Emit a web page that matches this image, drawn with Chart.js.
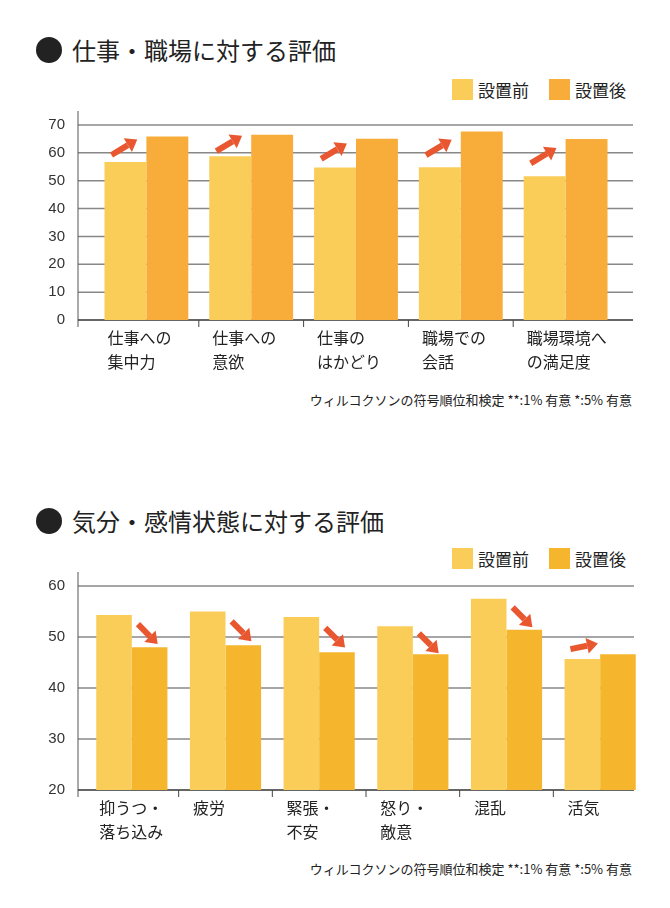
<!DOCTYPE html>
<html><head><meta charset="utf-8">
<script src="https://cdn.jsdelivr.net/npm/chart.js@4/dist/chart.umd.min.js"></script>
<style>
body{margin:0;width:670px;height:908px;background:#fff;font-family:"Noto Sans CJK JP","Noto Sans",sans-serif;color:#222;position:relative;overflow:hidden}
.t{position:absolute;left:36px;font-size:24px;display:flex;align-items:center;gap:10px}
.t span.b{width:26px;height:26px;border-radius:50%;background:#222;display:inline-block}
.lg{position:absolute;font-size:17px;display:flex;align-items:center}
.lg i{display:inline-block;width:21px;height:21px;margin:0 5px 0 0}
.note{position:absolute;right:38px;font-size:13px}
.cv{position:absolute;left:30px;width:620px;height:290px}
</style></head><body>
<div class="t" style="top:32px"><span class="b"></span>仕事・職場に対する評価</div>
<div class="lg" style="left:452px;top:77px"><i style="background:#f9cd58"></i>設置前<i style="background:#f8ad3a;margin-left:20px"></i>設置後</div>
<div class="note" style="top:390px">ウィルコクソンの符号順位和検定 **:1% 有意 *:5% 有意</div>
<div class="t" style="top:503px"><span class="b"></span>気分・感情状態に対する評価</div>
<div class="lg" style="left:452px;top:546px"><i style="background:#f9cd58"></i>設置前<i style="background:#f5b52d;margin-left:20px"></i>設置後</div>
<div class="note" style="top:859px">ウィルコクソンの符号順位和検定 **:1% 有意 *:5% 有意</div>
<div class="cv" style="top:95px"><canvas id="c1"></canvas></div>
<div class="cv" style="top:565px"><canvas id="c2"></canvas></div>
<script>
const cats1=[["仕事への","集中力"],["仕事への","意欲"],["仕事の","はかどり"],["職場での","会話"],["職場環境へ","の満足度"]];
const before1=[56.7,58.8,54.7,54.8,51.6];
const after1=[65.9,66.5,65.1,67.7,65.0];
const cats2=[["抑うつ・","落ち込み"],["疲労"],["緊張・","不安"],["怒り・","敵意"],["混乱"],["活気"]];
const before2=[54.3,55.0,53.9,52.1,57.5,45.7];
const after2=[48.0,48.4,47.0,46.6,51.4,46.6];

const gridPlugin={id:'gridx',beforeDatasetsDraw(ch,a,opt){
  const ctx=ch.ctx,ys=ch.scales.y,xs=ch.scales.x;ctx.save();
  ctx.strokeStyle='#888';ctx.lineWidth=1.5;
  ys.ticks.forEach(t=>{const y=ys.getPixelForValue(t.value);if(t.value===ys.min)return;
    ctx.beginPath();ctx.moveTo(opt.axisX,y);ctx.lineTo(opt.right,y);ctx.stroke();});
  ctx.strokeStyle='#555';ctx.lineWidth=1;ctx.beginPath();ctx.moveTo(opt.axisX,ys.top-14);ctx.lineTo(opt.axisX,ys.bottom+7);ctx.stroke();
  ctx.strokeStyle='#333';ctx.lineWidth=1.5;ctx.beginPath();ctx.moveTo(opt.axisX,ys.bottom);ctx.lineTo(opt.right,ys.bottom);ctx.stroke();
  // tick marks at category boundaries
  ctx.lineWidth=1;ctx.strokeStyle='#444';
  for(let i=1;i<ch.data.labels.length;i++){const x=(xs.getPixelForValue(i-1)+xs.getPixelForValue(i))/2;
    ctx.beginPath();ctx.moveTo(x,ys.bottom);ctx.lineTo(x,ys.bottom+7);ctx.stroke();}
  ctx.restore();}};

const arrowPlugin={id:'arrows',afterDatasetsDraw(ch,a,opt){
  const ctx=ch.ctx,m0=ch.getDatasetMeta(0),m1=ch.getDatasetMeta(1);
  ctx.save();ctx.fillStyle='#e8572f';ctx.strokeStyle='#e8572f';
  m0.data.forEach((b,i)=>{
    const a1=m1.data[i];const bd=(b.x+b.width/2+a1.x-a1.width/2)/2;
    const yB=b.y,yA=a1.y;let cx,cy,dx,dy,L;
    if(Math.abs(yB-yA)<8){cx=bd-16;cy=Math.min(yB,yA)-8;dx=1;dy=-0.2;L=28;}
    else if(yA<yB){cx=bd-22;cy=(yB+yA)/2-2;dx=1;dy=-0.6;L=30;}
    else{cx=bd+16;cy=(yB+yA)/2+3;dx=0.75;dy=0.75;L=28;}
    const n=Math.hypot(dx,dy);dx/=n;dy/=n;
    const sx=cx-dx*L/2,sy=cy-dy*L/2,ex=cx+dx*L/2,ey=cy+dy*L/2;
    const hx=ex-dx*11,hy=ey-dy*11;
    ctx.lineWidth=6;ctx.beginPath();ctx.moveTo(sx,sy);ctx.lineTo(hx,hy);ctx.stroke();
    ctx.beginPath();ctx.moveTo(ex,ey);ctx.lineTo(hx-dy*8,hy+dx*8);ctx.lineTo(hx+dy*8,hy-dx*8);ctx.closePath();ctx.fill();
  });
  const xs=ch.scales.x;ctx.fillStyle='#222';ctx.font='16px "Noto Sans CJK JP"';ctx.textAlign='left';ctx.textBaseline='top';
  ch.data.labels.forEach((lab,i)=>{const x=m0.data[i].x-m0.data[i].width/2+opt.lx;
    lab.forEach((s,k)=>ctx.fillText(s,x,xs.top+10+k*24));});
  ctx.restore();}};

function mk(id,cats,b,a,c2,min,max,step,yw,padR,cp,lineRight){
 new Chart(document.getElementById(id),{type:'bar',
  data:{labels:cats,datasets:[{data:b,backgroundColor:'#f9cd58',categoryPercentage:cp,barPercentage:1},{data:a,backgroundColor:c2,categoryPercentage:cp,barPercentage:1}]},
  options:{responsive:true,maintainAspectRatio:false,animation:false,
   layout:{padding:{top:13,right:padR,left:0,bottom:0}},
   plugins:{legend:{display:false},tooltip:{enabled:false},arrows:{lx:3},gridx:{axisX:48,right:lineRight-30}},
   scales:{
    x:{grid:{display:false},border:{display:false},
       ticks:{color:'transparent',font:{size:16}},afterFit(s){s.height=65;}},
    y:{min:min,max:max,ticks:{stepSize:step,color:'#333',font:{size:15,family:'Liberation Sans'},padding:6+yw-49},
       grid:{display:false},border:{display:false},afterFit(s){s.width=yw;}}}},
  plugins:[gridPlugin,arrowPlugin]});
}
mk('c1',cats1,before1,after1,'#f8ad3a',0,70,10,64,32,0.8,633);
mk('c2',cats2,before2,after2,'#f5b52d',20,60,10,55,3,0.76,634);
</script></body></html>
